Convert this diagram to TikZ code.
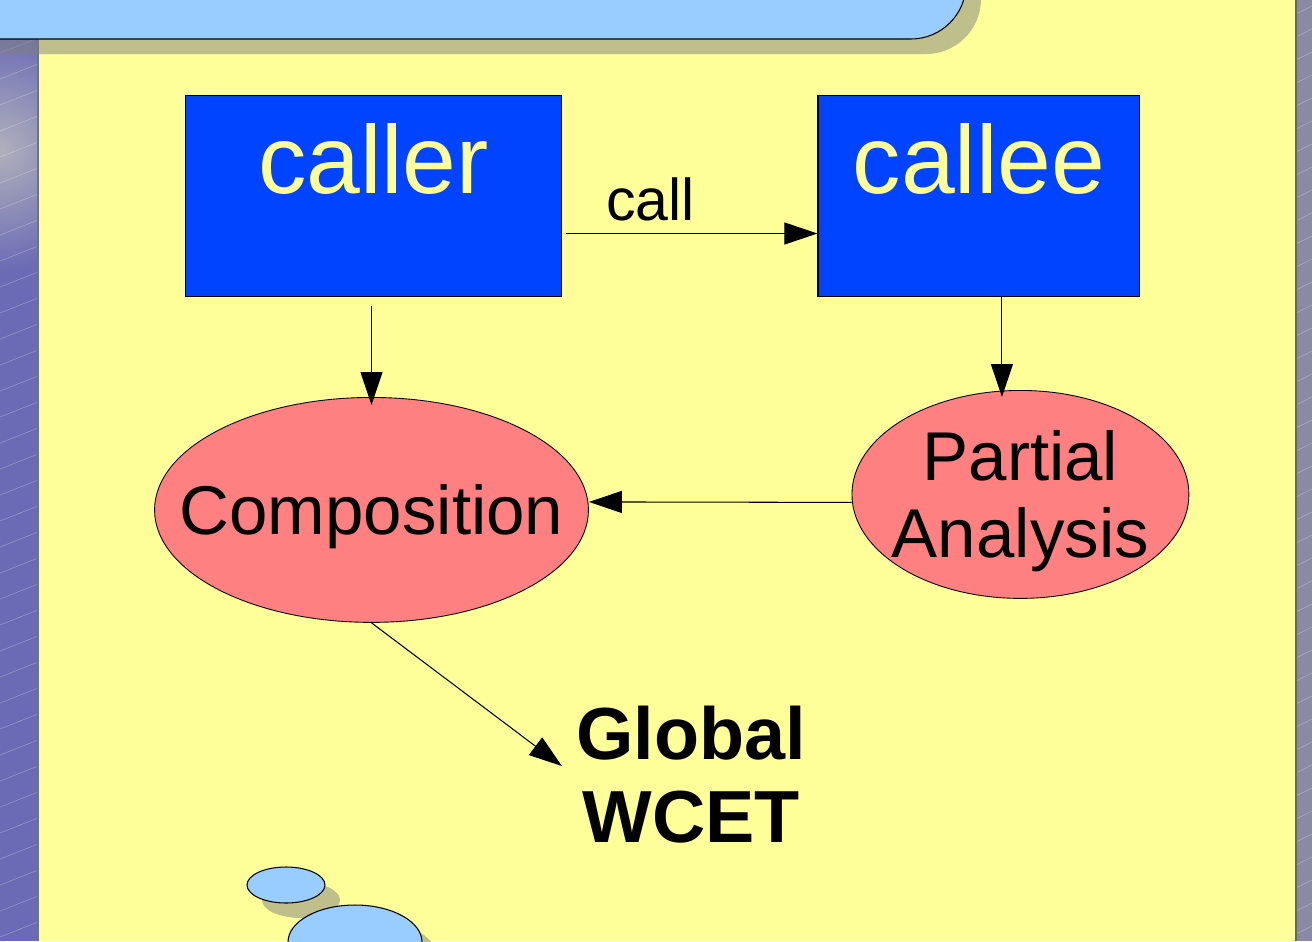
\documentclass[tikz,border=0pt]{standalone}
\usepackage{fontspec}
\setmainfont{Liberation Sans}
\usepackage{xcolor}
\usetikzlibrary{arrows.meta, positioning, shapes.geometric}

\definecolor{slideyellow}{HTML}{FFFF99}
\definecolor{boxblue}{HTML}{0044FF}
\definecolor{ovalred}{HTML}{FF8080}
\definecolor{titleblue}{HTML}{99CCFF}
\definecolor{stripblue}{HTML}{6B6BB5}
\definecolor{stripgrey}{HTML}{8A8AA6}
\definecolor{glowgrey}{HTML}{B0B0BC}

\begin{document}
\begin{tikzpicture}[
  x=0.02cm,
  y=-0.02cm,
  funcbox/.style={
    rectangle,
    draw,
    line width=0.6pt,
    fill=boxblue,
    text=slideyellow,
    inner sep=0pt,
    minimum height=4.02cm,
    text height=1.39cm,
    text depth=1.51cm,
    font=\fontsize{55pt}{60pt}\selectfont
  },
  oval/.style={
    ellipse,
    draw,
    line width=0.5pt,
    fill=ovalred,
    align=center,
    inner ysep=0pt,
    text depth=0pt,
    font=\fontsize{39.3pt}{43.8pt}\selectfont
  },
  result/.style={
    align=center,
    inner sep=0pt,
    font=\fontsize{42pt}{47.2pt}\selectfont\bfseries
  },
  shadow/.style={fill=gray, fill opacity=0.5},
  bubble/.style={draw, line width=0.6pt, fill=titleblue},
  hatch/.style={white, opacity=0.3, line width=0.3pt},
  flow/.style={-{Triangle[length=0.66cm, width=0.44cm]}, line width=0.6pt}
]

\clip (0,0) rectangle (1312,941);

% slide background
\fill[slideyellow] (0,0) rectangle (1312,941);
\begin{scope}
  \clip (0,0) rectangle (38,941);
  \fill[stripblue] (0,0) rectangle (38,941);
  \shade[inner color=glowgrey, outer color=stripblue] (0,150) circle (2.4cm);
  \foreach \y in {-40,-14,...,980}
    \draw[hatch] (0,\y+15) -- (38,\y);
\end{scope}
\begin{scope}
  \clip (1296,0) rectangle (1312,941);
  \fill[stripgrey] (1296,0) rectangle (1312,941);
  \foreach \y in {-40,-17,...,980}
    \draw[hatch] (1296,\y+8) -- (1312,\y);
\end{scope}
\draw[black!55, line width=0.8pt] (38,0) -- (38,941);
\draw[black!60, line width=0.8pt] (1296,0) -- (1296,941);

% title bar
\fill[shadow, rounded corners=1.1cm] (-45,-85) rectangle (981,54);
\draw[fill=titleblue, line width=0.6pt, rounded corners=1.1cm] (-60,-100) rectangle (966,39);

% bubbles
\fill[shadow] (301,900) ellipse [x radius=0.78cm, y radius=0.36cm];
\draw[bubble] (286,885) ellipse [x radius=0.78cm, y radius=0.36cm];
\fill[shadow] (370,957) ellipse [x radius=1.34cm, y radius=0.74cm];
\draw[bubble] (355,942) ellipse [x radius=1.34cm, y radius=0.74cm];

\node[funcbox, minimum width=7.54cm] (caller) at (373.5,196) {caller};

\node[funcbox, minimum width=6.44cm, right=5.1cm of caller] (callee) {callee};

\node[oval, minimum width=8.66cm, minimum height=4.5cm, inner xsep=-0.77cm,
  below=2cm of caller, xshift=-0.04cm] (composition) {Composition};

\node[oval, minimum width=6.74cm, minimum height=4.16cm, inner xsep=-0.19cm,
  below=1.86cm of callee, xshift=0.83cm] (partial) {Partial\\Analysis};

\node[result] (global) at (691,775) {Global\\WCET};

\draw[flow] ([xshift=0.08cm, yshift=-0.75cm]caller.east) -- ([yshift=-0.75cm]callee.west)
  node[pos=0.335, above, inner sep=0.24cm, font=\fontsize{33.6pt}{38pt}\selectfont] (calllabel) {call};
\draw[flow] ([xshift=-0.04cm, yshift=-0.18cm]caller.south) -- ([yshift=-0.16cm]composition.north);
\draw[flow] ([xshift=0.46cm]callee.south) -- ([xshift=-0.37cm, yshift=-0.14cm]partial.north);
\draw[flow] ([yshift=-0.16cm]partial.west) -- ([yshift=0.16cm]composition.east);
\draw[flow] (composition.south) -- ([xshift=-0.28cm, yshift=0.18cm]global.west);

\end{tikzpicture}
\end{document}
